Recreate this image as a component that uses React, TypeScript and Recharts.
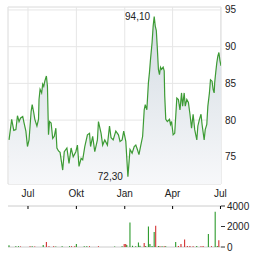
import {
  ComposedChart,
  Area,
  Bar,
  Cell,
  XAxis,
  YAxis,
  CartesianGrid,
  ReferenceArea,
  ReferenceDot,
} from "recharts";

// days since 1 Jul (start of the first "Jul" tick)
const days = [
  -36, -31, -27, -23, -20, -17, -14, -10, -8, -4, -1, 2, 6, 8, 11, 13, 17, 20, 21, 23,
  26, 28, 30, 32, 35, 37, 39, 41, 44, 47, 50, 53, 55, 58, 61, 66, 69, 74, 78, 82,
  86, 91, 94, 97, 101, 104, 108, 113, 117, 119, 123, 127, 132, 134, 139, 142, 146, 151, 155, 158,
  162, 167, 172, 175, 179, 182, 186, 190, 194, 198, 202, 205, 208, 211, 214, 218, 221, 223, 226, 229,
  231, 233, 236, 238, 240, 242, 244, 246, 248, 250, 252, 254, 257, 259, 260, 262, 265, 269, 271, 273,
  276, 279, 283, 286, 289, 292, 294, 297, 299, 302, 305, 308, 311, 314, 317, 321, 323, 326, 329, 331,
  335, 337, 340, 342, 345, 347, 350, 352, 354, 355, 357, 359, 361, 363, 365, 367,
];

const prices = [
  77.3, 80.1, 78.6, 78.7, 80.6, 79.8, 80.3, 80.5, 79.8, 78.5, 76.4, 77.3, 81.2, 82.1, 81.0, 80.1, 79.2, 80.1, 82.8, 84.2,
  83.7, 84.9, 84.6, 85.3, 86.0, 84.6, 78.0, 79.8, 79.6, 77.5, 77.8, 78.9, 76.2, 75.8, 75.6, 73.2, 75.7, 76.2, 74.1, 76.2,
  75.0, 75.7, 76.6, 73.7, 74.8, 74.6, 76.4, 78.0, 78.2, 76.4, 77.8, 75.7, 77.3, 79.8, 78.2, 76.6, 77.3, 76.6, 79.2, 77.6,
  77.3, 78.5, 78.0, 77.1, 77.3, 78.5, 77.1, 72.3, 76.0, 75.5, 76.4, 76.6, 76.0, 75.3, 76.4, 77.8, 81.4, 82.1, 81.4, 85.1,
  86.5, 88.3, 90.6, 92.8, 94.1, 92.8, 92.2, 89.7, 86.9, 86.2, 87.2, 86.9, 87.2, 86.7, 83.3, 80.1, 79.8, 80.1, 79.4, 79.8,
  78.0, 78.2, 83.0, 82.8, 81.4, 83.7, 81.9, 83.7, 81.9, 82.8, 82.4, 80.8, 78.9, 80.8, 78.7, 77.3, 79.2, 80.1, 80.8, 79.4,
  77.3, 78.7, 79.4, 81.9, 83.7, 85.5, 85.3, 84.2, 83.7, 85.1, 86.5, 87.8, 88.7, 89.2, 88.1, 87.4,
];

const volDays = [
  -36, -23, -18, -14, 4, 8, 13, 29, 35, 40, 49, 53, 65, 79, 83, 89, 92, 107, 112, 117,
  134, 165, 179, 183, 186, 188, 194, 199, 205, 210, 213, 221, 224, 229, 232, 236, 240, 243, 248, 251,
  255, 259, 262, 281, 286, 291, 298, 303, 308, 314, 321, 329, 333, 343, 349, 356, 360, 363,
];
const volumes = [
  170, 80, 80, 60, 70, 70, 60, 200, 500, 80, 80, 60, 80, 80, 80, 70, 300, 80, 70, 70,
  70, 60, 80, 300, 300, 200, 2400, 120, 80, 430, 120, 400, 100, 2000, 300, 100, 1470, 2070, 100, 80,
  80, 80, 70, 500, 100, 300, 730, 100, 90, 80, 90, 80, 90, 1270, 80, 3430, 100, 670,
];
// 1 = up day (green), 0 = down day (red)
const volUp = [
  1, 1, 1, 0, 0, 1, 0, 1, 0, 0, 0, 1, 1, 1, 0, 0, 1, 1, 1, 0,
  0, 1, 1, 0, 0, 1, 1, 1, 1, 1, 1, 0, 1, 1, 1, 1, 1, 0, 1, 0,
  1, 0, 1, 1, 0, 0, 0, 0, 0, 0, 1, 0, 0, 1, 0, 1, 1, 0,
];

const monthTicks = [0, 92, 184, 275, 366];
const monthLabels = ["Jul", "Okt", "Jan", "Apr", "Jul"];
const priceTicks = [75, 80, 85, 90, 95];
const volTicks = [0, 2000, 4000];

const X_DOMAIN: [number, number] = [-38, 367];
const Y_DOMAIN: [number, number] = [71.3, 95.4];

const priceData = days.map((d, i) => ({ day: d, price: prices[i] }));
const volData = volDays.map((d, i) => ({ day: d, vol: volumes[i], up: volUp[i] }));

const maxIdx = prices.indexOf(Math.max(...prices));
const minIdx = prices.indexOf(Math.min(...prices));
const fmt = (v: number) => v.toFixed(2).replace(".", ",");

const tickStyle = { fontSize: 10, fill: "#222" };

export default function App() {
  return (
    <div
      style={{
        position: "absolute",
        left: 0,
        top: 0,
        width: 264,
        height: 255,
        background: "#fff",
        fontFamily: "'Liberation Sans', Arial, sans-serif",
      }}
    >
      <ComposedChart
        width={264}
        height={185}
        data={priceData}
        margin={{ top: 7, right: 0, bottom: 1, left: 8 }}
      >
        <defs>
          <linearGradient id="areaFill" x1="0" y1="0" x2="0" y2="1">
            <stop offset="0%" stopColor="#d3dbe2" />
            <stop offset="100%" stopColor="#f7f8fa" />
          </linearGradient>
        </defs>
        <CartesianGrid stroke="#e6e6e6" strokeWidth={1} />
        <ReferenceArea
          x1={X_DOMAIN[0]}
          x2={X_DOMAIN[1]}
          y1={Y_DOMAIN[0]}
          y2={Y_DOMAIN[1]}
          fill="none"
          stroke="#e6e6e6"
          fillOpacity={0}
        />
        <XAxis
          dataKey="day"
          type="number"
          domain={X_DOMAIN}
          ticks={monthTicks}
          allowDataOverflow
          hide
        />
        <YAxis
          orientation="right"
          domain={Y_DOMAIN}
          ticks={priceTicks}
          allowDataOverflow
          width={43}
          axisLine={false}
          tickLine={false}
          tickSize={0}
          tickMargin={4}
          tick={tickStyle}
        />
        <Area
          type="linear"
          dataKey="price"
          stroke="#3d9b35"
          strokeWidth={1.2}
          fill="url(#areaFill)"
          fillOpacity={1}
          dot={false}
          activeDot={false}
          isAnimationActive={false}
        />
        <ReferenceDot
          x={days[maxIdx]}
          y={prices[maxIdx]}
          r={0.1}
          fill="none"
          stroke="none"
          label={{ value: fmt(prices[maxIdx]), position: "left", offset: 4, ...tickStyle }}
        />
        <ReferenceDot
          x={days[minIdx]}
          y={prices[minIdx]}
          r={0.1}
          fill="none"
          stroke="none"
          label={{ value: fmt(prices[minIdx]), position: "left", offset: 5, ...tickStyle }}
        />
      </ComposedChart>
      <div style={{ position: "absolute", left: 0, top: 184 }}>
        <ComposedChart
          width={264}
          height={71}
          data={volData}
          margin={{ top: 0, right: 0, bottom: 8, left: 8 }}
        >
          <CartesianGrid stroke="#cccccc" vertical={false} />
          <XAxis
            dataKey="day"
            type="number"
            orientation="top"
            domain={X_DOMAIN}
            ticks={monthTicks}
            interval={0}
            tickFormatter={(v: number) => monthLabels[monthTicks.indexOf(v)]}
            height={22}
            axisLine={false}
            tickLine={{ stroke: "#000" }}
            tickSize={-3}
            tickMargin={12}
            tick={tickStyle}
            allowDataOverflow
          />
          <YAxis
            orientation="right"
            domain={[0, 4000]}
            ticks={volTicks}
            width={43}
            axisLine={false}
            tickLine={{ stroke: "#333" }}
            tickSize={4}
            tickMargin={2}
            tick={tickStyle}
          />
          <Bar dataKey="vol" barSize={1.2} isAnimationActive={false}>
            {volData.map((d, i) => (
              <Cell key={i} fill={d.up ? "#0a8a0a" : "#cc1111"} />
            ))}
          </Bar>
        </ComposedChart>
      </div>
    </div>
  );
}
